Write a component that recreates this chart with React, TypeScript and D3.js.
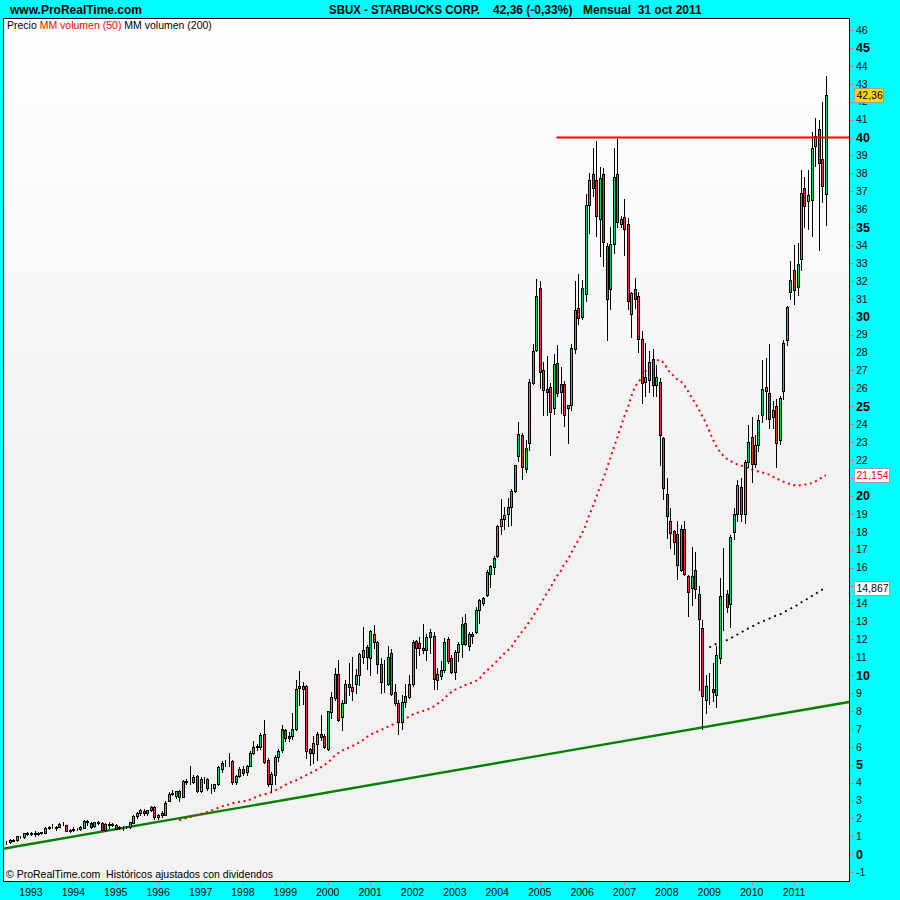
import { useEffect, useRef } from "react";
import * as d3 from "d3";

// monthly candles, first one is June 1992: [open, high, low, close]
const firstMonth = new Date(1992, 5, 1);
const ohlc: [number, number, number, number][] = [
  // 1992 (jun-dec)
  [0.70, 0.72, 0.60, 0.66], [0.66, 0.88, 0.64, 0.80], [0.82, 0.85, 0.72, 0.75], [0.78, 1.02, 0.76, 1.00],
  [0.98, 1.03, 0.92, 0.96], [0.95, 1.20, 0.93, 1.17], [1.17, 1.26, 1.08, 1.14],
  // 1993
  [1.14, 1.26, 1.05, 1.18], [1.18, 1.28, 1.02, 1.16], [1.16, 1.25, 1.10, 1.20], [1.20, 1.26, 1.12, 1.22],
  [1.20, 1.52, 1.18, 1.48], [1.48, 1.56, 1.42, 1.50], [1.50, 1.68, 1.44, 1.52], [1.52, 1.56, 1.38, 1.45],
  [1.54, 1.72, 1.50, 1.68], [1.68, 1.78, 1.62, 1.70], [1.63, 1.66, 1.30, 1.32], [1.32, 1.40, 1.26, 1.36],
  // 1994
  [1.36, 1.50, 1.28, 1.40], [1.40, 1.46, 1.34, 1.42], [1.39, 1.56, 1.36, 1.54], [1.47, 1.90, 1.45, 1.86],
  [1.84, 1.92, 1.62, 1.82], [1.73, 1.78, 1.48, 1.52], [1.58, 1.82, 1.50, 1.78], [1.78, 1.86, 1.70, 1.77],
  [1.76, 1.80, 1.34, 1.36], [1.36, 1.72, 1.30, 1.70], [1.68, 1.80, 1.44, 1.65], [1.66, 1.74, 1.58, 1.70],
  // 1995
  [1.65, 1.70, 1.40, 1.42], [1.46, 1.58, 1.40, 1.54], [1.54, 1.58, 1.36, 1.50], [1.50, 1.56, 1.44, 1.52],
  [1.50, 1.80, 1.48, 1.78], [1.76, 2.18, 1.74, 2.15], [2.15, 2.35, 2.05, 2.28], [2.28, 2.55, 2.20, 2.47],
  [2.43, 2.52, 2.22, 2.28], [2.30, 2.50, 2.20, 2.45], [2.45, 2.70, 2.40, 2.62], [2.62, 2.68, 1.98, 2.06],
  // 1996
  [2.06, 2.25, 1.95, 2.20], [2.20, 2.40, 2.10, 2.30], [2.22, 2.95, 2.18, 2.88], [3.00, 3.45, 2.96, 3.37],
  [3.37, 3.60, 3.30, 3.40], [3.27, 3.55, 3.15, 3.51], [3.51, 3.60, 3.00, 3.22], [3.22, 4.15, 3.18, 4.07],
  [4.07, 4.20, 3.90, 4.05], [4.05, 4.90, 3.95, 4.05], [4.05, 4.45, 3.98, 4.33], [4.37, 4.42, 3.45, 3.55],
  // 1997
  [3.55, 4.30, 3.50, 4.22], [4.22, 4.30, 4.00, 4.20], [4.18, 4.25, 3.60, 3.68], [3.68, 3.90, 3.40, 3.70],
  [3.68, 3.95, 3.55, 3.90], [3.90, 4.95, 3.85, 4.89], [4.76, 5.20, 4.60, 5.08], [5.08, 5.25, 4.95, 5.10],
  [5.20, 5.63, 4.90, 5.18], [5.18, 5.25, 3.95, 4.04], [4.04, 4.45, 3.90, 4.37], [4.37, 4.85, 4.30, 4.76],
  // 1998
  [4.76, 4.90, 4.40, 4.52], [4.57, 5.00, 4.40, 4.93], [4.93, 5.75, 4.90, 5.67], [5.67, 6.30, 5.60, 5.99],
  [5.99, 6.15, 5.80, 6.04], [6.00, 6.75, 5.90, 6.66], [6.71, 7.50, 5.10, 5.17], [5.26, 5.40, 3.80, 3.90],
  [3.90, 4.60, 3.50, 4.46], [4.40, 5.55, 3.90, 5.45], [5.45, 5.90, 5.20, 5.76], [5.82, 7.20, 5.70, 6.97],
  // 1999
  [6.94, 7.00, 6.30, 6.47], [6.47, 6.80, 6.30, 6.62], [6.62, 7.90, 6.45, 6.99], [7.02, 9.72, 6.95, 9.20],
  [9.26, 10.22, 8.33, 9.39], [9.39, 9.60, 8.40, 9.25], [9.39, 9.45, 5.40, 5.78], [5.87, 5.95, 4.98, 5.66],
  [5.66, 6.60, 5.07, 6.22], [6.15, 6.84, 5.26, 6.74], [6.71, 7.77, 6.37, 6.56], [6.60, 6.74, 5.91, 6.00],
  // 2000
  [5.87, 8.00, 5.81, 7.99], [7.95, 9.07, 7.58, 8.79], [8.73, 10.37, 8.60, 10.06], [10.06, 10.84, 7.45, 7.49],
  [7.67, 8.60, 6.93, 8.47], [8.46, 9.72, 8.42, 9.53], [9.52, 10.69, 8.88, 9.35], [9.35, 11.02, 8.60, 9.13],
  [9.53, 10.32, 8.98, 10.00], [10.00, 11.21, 9.44, 11.17], [11.02, 12.66, 10.69, 11.39], [11.56, 11.67, 10.32, 11.02],
  // 2001
  [10.93, 12.51, 10.00, 12.45], [12.32, 12.79, 11.49, 11.86], [11.82, 11.90, 10.09, 10.60], [10.60, 10.93, 9.01, 9.63],
  [9.63, 10.84, 9.07, 9.59], [9.50, 11.62, 9.45, 11.02], [11.21, 11.43, 8.88, 8.94], [9.03, 9.53, 8.33, 8.42],
  [8.42, 8.60, 6.69, 7.36], [7.40, 8.88, 7.02, 8.51], [8.51, 9.50, 8.23, 8.83], [8.79, 10.00, 8.70, 9.48],
  // 2002
  [9.53, 11.95, 9.39, 11.86], [11.90, 11.95, 10.37, 11.52], [11.77, 12.14, 11.12, 11.54], [11.52, 12.85, 11.25, 11.39],
  [11.39, 12.32, 10.87, 12.14], [12.12, 12.60, 11.21, 12.38], [12.18, 12.40, 9.20, 9.76], [9.72, 10.40, 9.20, 10.06],
  [9.94, 10.80, 9.76, 10.28], [10.28, 12.05, 10.19, 11.82], [11.99, 12.10, 10.65, 10.78], [10.98, 11.10, 10.09, 10.15],
  // 2003
  [10.19, 11.40, 9.76, 11.30], [11.30, 11.86, 10.80, 11.71], [11.71, 13.22, 11.02, 12.83], [12.88, 13.39, 11.67, 11.71],
  [11.64, 12.42, 11.39, 12.32], [12.32, 12.42, 11.77, 12.18], [12.42, 13.78, 12.36, 13.63], [13.63, 14.22, 12.88, 14.18],
  [14.00, 14.37, 13.90, 14.33], [14.46, 15.86, 14.41, 15.77], [15.67, 16.12, 14.93, 16.08], [16.04, 16.64, 15.67, 16.51],
  // 2004
  [16.64, 18.37, 16.60, 18.31], [18.31, 19.80, 17.90, 18.69], [18.69, 19.36, 18.18, 18.91], [18.98, 19.91, 18.31, 19.39],
  [19.39, 20.36, 18.37, 20.27], [20.27, 21.75, 20.20, 21.72], [22.24, 24.14, 21.96, 23.45], [23.39, 23.50, 20.97, 21.59],
  [21.48, 23.11, 21.35, 22.70], [22.93, 26.55, 22.56, 26.37], [26.28, 28.47, 26.24, 28.08], [28.14, 32.08, 28.10, 31.15],
  // 2005
  [31.63, 32.00, 26.00, 26.93], [27.05, 27.45, 24.50, 25.90], [25.95, 27.80, 24.50, 25.80], [26.05, 26.30, 22.30, 24.70],
  [24.90, 27.90, 24.55, 27.35], [27.40, 28.40, 25.60, 25.75], [25.80, 27.20, 24.60, 26.25], [26.25, 26.40, 23.90, 24.50],
  [24.90, 25.10, 22.95, 25.05], [25.10, 28.50, 24.80, 28.25], [28.20, 32.00, 28.00, 30.40], [30.50, 32.40, 29.60, 29.95],
  // 2006
  [29.96, 32.06, 29.85, 31.63], [31.24, 36.84, 30.90, 36.23], [36.25, 38.03, 34.67, 37.64], [37.97, 39.44, 36.73, 37.21],
  [37.64, 39.80, 34.50, 35.60], [35.43, 38.36, 33.37, 37.75], [37.97, 38.30, 32.82, 34.19], [33.97, 34.10, 28.70, 30.98],
  [31.56, 34.99, 30.44, 34.08], [34.08, 39.44, 33.58, 37.77], [37.97, 39.94, 35.00, 35.28], [35.19, 35.60, 35.00, 35.43],
  // 2007
  [35.54, 36.56, 33.43, 34.89], [35.15, 35.50, 30.44, 30.87], [30.17, 31.40, 28.87, 31.30], [31.56, 32.17, 30.50, 30.98],
  [31.15, 31.40, 28.05, 28.76], [28.76, 29.20, 25.16, 26.31], [26.35, 28.53, 25.60, 26.64], [26.46, 28.10, 25.80, 27.50],
  [27.66, 28.20, 25.60, 26.20], [26.20, 27.30, 25.60, 26.64], [26.35, 26.60, 21.75, 23.38], [23.23, 23.30, 19.84, 20.45],
  // 2008
  [20.08, 21.00, 17.63, 18.87], [18.60, 19.32, 17.10, 17.95], [18.06, 18.10, 16.76, 17.45], [17.85, 18.60, 15.35, 16.17],
  [15.89, 18.40, 15.80, 18.13], [18.17, 18.60, 15.60, 15.67], [15.52, 15.60, 13.29, 14.66], [14.87, 17.15, 13.90, 15.52],
  [15.85, 16.87, 14.30, 14.81], [14.53, 15.00, 9.17, 13.11], [12.64, 13.10, 7.00, 8.85], [8.62, 9.98, 7.90, 9.38],
  // 2009
  [9.40, 10.10, 8.40, 9.38], [9.21, 10.70, 8.55, 9.07], [8.90, 11.65, 8.20, 11.10], [10.93, 15.40, 10.70, 14.44],
  [14.44, 17.10, 12.50, 14.40], [14.51, 14.75, 13.50, 13.79], [13.99, 17.80, 12.70, 17.73], [17.97, 19.30, 17.60, 18.97],
  [18.97, 20.90, 18.60, 20.59], [20.47, 21.00, 18.60, 18.97], [18.97, 22.00, 18.50, 21.90], [21.90, 23.93, 21.60, 23.02],
  // 2010
  [23.26, 24.40, 20.80, 21.78], [21.78, 23.40, 21.60, 22.86], [22.86, 24.50, 22.50, 24.22], [24.50, 27.58, 24.10, 25.96],
  [26.07, 27.70, 24.30, 25.84], [25.77, 28.46, 23.80, 24.30], [24.41, 25.30, 23.80, 24.81], [25.00, 25.40, 21.60, 22.93],
  [23.14, 25.60, 22.90, 25.48], [25.84, 28.70, 25.40, 28.53], [28.70, 30.60, 28.40, 30.56], [31.39, 33.11, 31.00, 32.04],
  // 2011 (jan-oct)
  [32.63, 34.00, 30.70, 31.49], [31.68, 34.10, 31.20, 32.92], [33.21, 38.20, 32.60, 36.88], [37.21, 37.80, 35.00, 36.16],
  [36.45, 38.20, 34.90, 36.79], [36.50, 40.30, 34.50, 39.43], [39.55, 41.10, 38.40, 40.06], [40.48, 41.00, 33.70, 38.60],
  [38.79, 42.00, 36.40, 37.28], [36.85, 43.45, 35.10, 42.36],
];

// red dotted average, from candle 49 (jul 1996) on
const ma50Start = 49;
const ma50 = [
  1.90, 1.96, 2.02, 2.08, 2.14, 2.19, 2.25, 2.31, 2.37, 2.43,
  2.51, 2.59, 2.67, 2.73, 2.78, 2.84, 2.90, 2.93, 2.95, 2.98,
  3.05, 3.13, 3.22, 3.29, 3.34, 3.39, 3.46, 3.55, 3.65, 3.75,
  3.87, 3.97, 4.06, 4.12, 4.22, 4.32, 4.42, 4.52, 4.62, 4.73,
  4.85, 4.97, 5.12, 5.30, 5.50, 5.65, 5.78, 5.86, 5.95, 6.04,
  6.15, 6.25, 6.38, 6.53, 6.67, 6.76, 6.84, 6.93, 7.02, 7.11,
  7.20, 7.30, 7.38, 7.47, 7.57, 7.68, 7.80, 7.88, 7.94, 8.00,
  8.05, 8.15, 8.24, 8.38, 8.52, 8.68, 8.90, 9.05, 9.18, 9.27,
  9.35, 9.45, 9.52, 9.58, 9.68, 9.80, 10.05, 10.25, 10.42, 10.60,
  10.80, 11.02, 11.20, 11.38, 11.55, 11.88, 12.15, 12.42, 12.68, 12.95,
  13.25, 13.58, 13.88, 14.22, 14.55, 14.85, 15.22, 15.55, 15.80, 16.20,
  16.45, 16.82, 17.22, 17.55, 17.90, 18.35, 18.90, 19.35, 19.90, 20.45,
  20.93, 21.50, 22.10, 22.70, 23.25, 23.85, 24.45, 24.95, 25.55, 26.10,
  26.35, 26.62, 26.95, 27.25, 27.45, 27.55, 27.60, 27.45, 27.15, 26.85,
  26.70, 26.50, 26.40, 26.15, 25.85, 25.50, 25.20, 24.85, 24.45, 24.10,
  23.62, 23.15, 22.80, 22.48, 22.25, 22.07, 21.95, 21.85, 21.75, 21.70,
  21.63, 21.55, 21.47, 21.40, 21.36, 21.31, 21.25, 21.19, 21.08, 20.98,
  20.88, 20.80, 20.72, 20.65, 20.60, 20.58, 20.60, 20.63, 20.67, 20.71,
  20.80, 20.90, 21.05, 21.154,
];

// black dotted average, from candle 199 (jan 2009) on
const ma200Start = 199;
const ma200 = [
  11.55, 11.65, 11.74, 11.82, 11.88, 11.95, 12.05, 12.15, 12.27, 12.38,
  12.48, 12.60, 12.70, 12.80, 12.90, 12.98, 13.07, 13.15, 13.24, 13.32,
  13.38, 13.50, 13.60, 13.70, 13.80, 13.92, 14.05, 14.15, 14.28, 14.40,
  14.52, 14.65, 14.77, 14.867,
];

const yearLabels = [1993, 1994, 1995, 1996, 1997, 1998, 1999, 2000, 2001, 2002, 2003,
  2004, 2005, 2006, 2007, 2008, 2009, 2010, 2011];
// 21 and 15 sit fully under the value tags, so they are not drawn
const priceTicks = d3.range(-1, 47);
const hiddenTickLabels = [15, 21];

const trendLine = [
  { date: new Date(1992, 4, 5), value: 0.31 },
  { date: new Date(2012, 3, 19), value: 8.5 },
];
const resistance = { from: new Date(2005, 4, 25), value: 40 };

const lastValues = [
  { value: 42.36, label: "42,36", fill: "#ffd700", color: "#000000" },
  { value: 21.154, label: "21,154", fill: "#ffffff", color: "#ff0000" },
  { value: 14.867, label: "14,867", fill: "#ffffff", color: "#000000" },
];

const FONT = "'Liberation Sans', Arial, sans-serif";
const W = 900;
const H = 900;
const plot = { left: 3.5, top: 18.5, right: 849.5, bottom: 881.5 };

const App = () => {
  const svgRef = useRef<SVGSVGElement>(null);

  useEffect(() => {
    if (!svgRef.current) return;
    const svg = d3.select(svgRef.current);
    svg.selectAll("*").remove();
    svg.attr("width", W).attr("height", H).style("font-family", FONT);

    const x = d3
      .scaleTime()
      .domain([new Date(1993, 0, 1), new Date(2011, 0, 1)])
      .range([31, 794]);
    const y = d3.scaleLinear().domain([0, 46]).range([854.3, 30]);
    const monthDate = (i: number) => d3.timeMonth.offset(firstMonth, i);

    const defs = svg.append("defs");
    const grad = defs
      .append("linearGradient")
      .attr("id", "plotBg")
      .attr("x1", 0).attr("y1", 0).attr("x2", 0).attr("y2", 1);
    grad.append("stop").attr("offset", "0%").attr("stop-color", "#ffffff");
    grad.append("stop").attr("offset", "55%").attr("stop-color", "#f2f2f2");
    grad.append("stop").attr("offset", "100%").attr("stop-color", "#f2f2f2");
    defs
      .append("clipPath")
      .attr("id", "plotClip")
      .append("rect")
      .attr("x", plot.left)
      .attr("y", plot.top)
      .attr("width", plot.right - plot.left)
      .attr("height", plot.bottom - plot.top);

    // fondo cian
    svg.append("rect").attr("width", W).attr("height", H).attr("fill", "#00ffff");
    svg
      .append("rect")
      .attr("x", plot.left)
      .attr("y", plot.top)
      .attr("width", plot.right - plot.left)
      .attr("height", plot.bottom - plot.top)
      .attr("fill", "url(#plotBg)");

    const g = svg.append("g").attr("clip-path", "url(#plotClip)");

    // linea de tendencia verde
    const lineXY = d3
      .line<{ date: Date; value: number }>()
      .x((d) => x(d.date))
      .y((d) => y(d.value));
    g.append("path")
      .attr("d", lineXY(trendLine))
      .attr("fill", "none")
      .attr("stroke", "#008000")
      .attr("stroke-width", 2.4);

    // medias moviles punteadas
    const maLine = (start: number) =>
      d3
        .line<number>()
        .x((_, i) => x(monthDate(start + i)))
        .y((d) => y(d));
    g.append("path")
      .attr("d", maLine(ma50Start)(ma50))
      .attr("fill", "none")
      .attr("stroke", "#ff0000")
      .attr("stroke-width", 2)
      .attr("stroke-dasharray", "2 3.6");
    g.append("path")
      .attr("d", maLine(ma200Start)(ma200))
      .attr("fill", "none")
      .attr("stroke", "#000000")
      .attr("stroke-width", 1.8)
      .attr("stroke-dasharray", "2 4");

    // velas
    const candle = g
      .selectAll("g.candle")
      .data(ohlc)
      .join("g")
      .attr("class", "candle")
      .attr("shape-rendering", "crispEdges")
      .attr("transform", (_, i) => `translate(${Math.round(x(monthDate(i))) + 0.5},0)`);

    candle
      .append("line")
      .attr("y1", (d) => Math.round(y(d[1])))
      .attr("y2", (d) => Math.round(y(d[2])) + 1)
      .attr("stroke", "#000")
      .attr("stroke-width", 1);

    candle
      .append("rect")
      .attr("x", -1)
      .attr("y", (d) => Math.round(y(Math.max(d[0], d[3]))) + 0.5)
      .attr("width", 2)
      .attr("height", (d) =>
        Math.max(0, Math.round(y(Math.min(d[0], d[3]))) - Math.round(y(Math.max(d[0], d[3]))))
      )
      .attr("fill", (d) => (d[3] >= d[0] ? "#22cc44" : "#ee3333"))
      .attr("stroke", "#000")
      .attr("stroke-width", 1);

    // resistencia roja en 40
    g.append("line")
      .attr("x1", x(resistance.from))
      .attr("x2", plot.right)
      .attr("y1", y(resistance.value))
      .attr("y2", y(resistance.value))
      .attr("stroke", "#ff0000")
      .attr("stroke-width", 2);

    // eje de precios
    const yAxis = svg.append("g");
    yAxis
      .selectAll("line")
      .data(priceTicks)
      .join("line")
      .attr("x1", plot.right)
      .attr("x2", plot.right + 4)
      .attr("y1", (d) => Math.round(y(d)) + 0.5)
      .attr("y2", (d) => Math.round(y(d)) + 0.5)
      .attr("stroke", "#e07a7a");
    yAxis
      .selectAll("text")
      .data(priceTicks.filter((d) => !hiddenTickLabels.includes(d)))
      .join("text")
      .attr("x", 856)
      .attr("y", (d) => y(d))
      .attr("dy", "0.36em")
      .attr("font-size", (d) => (d % 5 === 0 ? 12.5 : 10.5))
      .attr("font-weight", (d) => (d % 5 === 0 ? "bold" : "normal"))
      .attr("fill", "#000")
      .text((d) => d);

    // eje temporal
    const xAxis = svg.append("g");
    xAxis
      .selectAll("line")
      .data(yearLabels)
      .join("line")
      .attr("x1", (d) => Math.round(x(new Date(d, 0, 1))) + 0.5)
      .attr("x2", (d) => Math.round(x(new Date(d, 0, 1))) + 0.5)
      .attr("y1", plot.bottom)
      .attr("y2", plot.bottom + 4)
      .attr("stroke", "#e07a7a");
    xAxis
      .selectAll("text")
      .data(yearLabels)
      .join("text")
      .attr("x", (d) => x(new Date(d, 0, 1)))
      .attr("y", 896)
      .attr("text-anchor", "middle")
      .attr("font-size", 10.5)
      .text((d) => d);

    // ultimos valores
    const tags = svg.append("g");
    lastValues.forEach((v) => {
      const cy = y(v.value);
      const w = v.label.length > 5 ? 35 : 29;
      tags
        .append("rect")
        .attr("x", 854.5)
        .attr("y", Math.round(cy - 7) + 0.5)
        .attr("width", w)
        .attr("height", 14)
        .attr("fill", v.fill)
        .attr("stroke", "#a0a0a0");
      tags
        .append("text")
        .attr("x", 856.5)
        .attr("y", cy)
        .attr("dy", "0.36em")
        .attr("font-size", 10.5)
        .attr("fill", v.color)
        .text(v.label);
    });

    // marco
    svg
      .append("rect")
      .attr("x", plot.left)
      .attr("y", plot.top)
      .attr("width", plot.right - plot.left)
      .attr("height", plot.bottom - plot.top)
      .attr("fill", "none")
      .attr("stroke", "#000")
      .attr("stroke-width", 1);

    // cabecera
    svg.append("text").attr("x", 10).attr("y", 13.5).attr("font-size", 12)
      .attr("font-weight", "bold").text("www.ProRealTime.com");
    svg.append("text").attr("x", 329).attr("y", 13.5).attr("font-size", 12)
      .attr("font-weight", "bold")
      .attr("textLength", 151)
      .attr("lengthAdjust", "spacingAndGlyphs")
      .text("SBUX - STARBUCKS CORP.");
    svg.append("text").attr("x", 493).attr("y", 13.5).attr("font-size", 12)
      .attr("font-weight", "bold").text("42,36 (-0,33%)");
    svg.append("text").attr("x", 583).attr("y", 13.5).attr("font-size", 12)
      .attr("font-weight", "bold").text("Mensual  31 oct 2011").style("white-space", "pre");

    // leyenda
    const legend = svg.append("text").attr("x", 7).attr("y", 29).attr("font-size", 10.5)
      .style("white-space", "pre");
    legend.append("tspan").attr("fill", "#000").text("Precio ");
    legend.append("tspan").attr("fill", "#ff0000").text("MM volumen (50)");
    legend.append("tspan").attr("fill", "#000").text(" MM volumen (200)");

    // pie
    svg.append("text").attr("x", 6).attr("y", 878).attr("font-size", 10.5)
      .style("white-space", "pre")
      .text("\u00a9 ProRealTime.com  Históricos ajustados con dividendos");
  }, []);

  return <svg ref={svgRef} style={{ position: "absolute", left: 0, top: 0 }} />;
};

export default App;
